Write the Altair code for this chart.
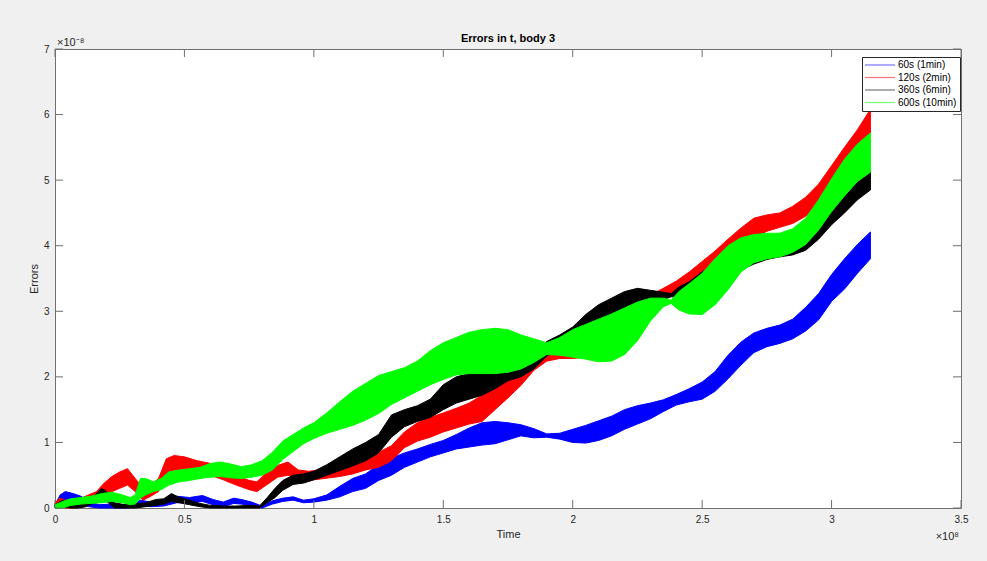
import altair as alt
import pandas as pd

FONT = "Liberation Sans"
TITLE = "Errors in t, body 3"
SERIES = ["60s (1min)", "120s (2min)", "360s (6min)", "600s (10min)"]
COLORS = ["#0000ff", "#ff0000", "#000000", "#00ff00"]
X_TICKS = [0, 0.5, 1, 1.5, 2, 2.5, 3, 3.5]      # x 1e8
Y_TICKS = [0, 1, 2, 3, 4, 5, 6, 7]              # x 1e-8

# ---- 60s (1min) : time (x1e8), lower / upper envelope (x1e-8)
T_60 = [0, 0.02, 0.04, 0.07, 0.1, 0.13, 0.17, 0.22, 0.28, 0.33, 0.37, 0.42, 0.47, 0.52, 0.57,
        0.61, 0.65, 0.69, 0.72, 0.76, 0.80, 0.84, 0.88, 0.92, 0.96, 1.00, 1.05, 1.10, 1.15,
        1.20, 1.25, 1.30, 1.35, 1.40, 1.45, 1.50, 1.55, 1.60, 1.65, 1.70, 1.75, 1.80, 1.85,
        1.90, 1.95, 2.00, 2.05, 2.10, 2.15, 2.20, 2.25, 2.30, 2.35, 2.40, 2.45, 2.50, 2.55,
        2.60, 2.65, 2.70, 2.75, 2.80, 2.85, 2.90, 2.95, 3.00, 3.05, 3.10, 3.15]
LO_60 = [0.0, 0.05, 0.12, 0.1, 0.08, 0.02, 0.0, 0.0, 0.0, 0.04, 0.02, 0.03, 0.08, 0.08, 0.1,
         0.05, 0.02, 0.07, 0.06, 0.03, 0.0, 0.06, 0.1, 0.12, 0.08, 0.09, 0.12, 0.17, 0.25,
         0.3, 0.42, 0.5, 0.62, 0.7, 0.78, 0.84, 0.9, 0.93, 0.96, 0.98, 1.04, 1.1, 1.07,
         1.08, 1.05, 1.0, 0.99, 1.03, 1.1, 1.2, 1.28, 1.36, 1.47, 1.57, 1.62, 1.66, 1.78,
         1.97, 2.18, 2.37, 2.46, 2.51, 2.58, 2.7, 2.87, 3.15, 3.34, 3.58, 3.8]
HI_60 = [0.05, 0.2, 0.25, 0.22, 0.18, 0.1, 0.05, 0.06, 0.05, 0.12, 0.09, 0.1, 0.18, 0.16, 0.19,
         0.13, 0.09, 0.15, 0.13, 0.09, 0.03, 0.11, 0.15, 0.17, 0.12, 0.14, 0.2, 0.33, 0.45,
         0.52, 0.66, 0.76, 0.84, 0.9, 0.97, 1.03, 1.12, 1.22, 1.3, 1.32, 1.3, 1.27, 1.21,
         1.13, 1.14, 1.2, 1.26, 1.33, 1.4, 1.5, 1.56, 1.6, 1.65, 1.73, 1.82, 1.92, 2.08,
         2.33, 2.53, 2.67, 2.74, 2.79, 2.88, 3.06, 3.27, 3.56, 3.8, 4.02, 4.21]

# ---- 120s (2min)
T_120 = [0, 0.02, 0.04, 0.07, 0.1, 0.13, 0.16, 0.19, 0.22, 0.25, 0.28, 0.31, 0.34, 0.37, 0.40,
         0.43, 0.46, 0.50, 0.55, 0.60, 0.65, 0.70, 0.75, 0.78, 0.82, 0.86, 0.90, 0.94, 0.98,
         1.02, 1.06, 1.10, 1.15, 1.20, 1.25, 1.30, 1.35, 1.40, 1.45, 1.50, 1.55, 1.60, 1.65,
         1.70, 1.75, 1.80, 1.85, 1.90, 1.95, 2.00, 2.05, 2.10, 2.15, 2.20, 2.25, 2.30, 2.35,
         2.40, 2.45, 2.50, 2.55, 2.60, 2.65, 2.70, 2.75, 2.80, 2.85, 2.90, 2.95, 3.00, 3.05,
         3.10, 3.15]
LO_120 = [0.0, 0.05, 0.0, 0.0, 0.02, 0.08, 0.12, 0.2, 0.25, 0.3, 0.35, 0.25, 0.12, 0.18, 0.25,
          0.5, 0.58, 0.58, 0.52, 0.5, 0.43, 0.35, 0.28, 0.25, 0.36, 0.47, 0.5, 0.45, 0.42,
          0.44, 0.46, 0.48, 0.52, 0.58, 0.62, 0.72, 0.92, 1.02, 1.08, 1.16, 1.22, 1.28, 1.32,
          1.5, 1.68, 1.87, 2.1, 2.24, 2.28, 2.28, 2.3, 2.4, 2.55, 2.75, 2.95, 3.1, 3.22,
          3.3, 3.4, 3.52, 3.66, 3.8, 3.97, 4.12, 4.22, 4.28, 4.34, 4.45, 4.66, 4.9, 5.18,
          5.45, 5.72]
HI_120 = [0.08, 0.15, 0.12, 0.1, 0.15, 0.2, 0.25, 0.38, 0.48, 0.55, 0.6, 0.45, 0.3, 0.35, 0.45,
          0.75, 0.8, 0.78, 0.72, 0.68, 0.58, 0.5, 0.42, 0.4, 0.55, 0.65, 0.7, 0.58, 0.56,
          0.58, 0.6, 0.63, 0.68, 0.76, 0.85, 0.95, 1.16, 1.3, 1.38, 1.45, 1.52, 1.6, 1.72,
          1.88, 2.02, 2.16, 2.3, 2.37, 2.38, 2.36, 2.42, 2.6, 2.8, 3.0, 3.15, 3.25, 3.35,
          3.46, 3.6, 3.76, 3.92, 4.1, 4.27, 4.42, 4.47, 4.5, 4.6, 4.74, 4.94, 5.22, 5.5,
          5.77, 6.08]

# ---- 360s (6min)
T_360 = [0, 0.03, 0.06, 0.09, 0.12, 0.15, 0.18, 0.20, 0.23, 0.27, 0.31, 0.35, 0.39, 0.42, 0.45,
         0.48, 0.52, 0.56, 0.60, 0.65, 0.70, 0.75, 0.79, 0.82, 0.85, 0.88, 0.92, 0.96, 1.00,
         1.05, 1.10, 1.15, 1.20, 1.25, 1.30, 1.35, 1.40, 1.45, 1.50, 1.55, 1.60, 1.65, 1.70,
         1.75, 1.80, 1.85, 1.90, 1.95, 2.00, 2.05, 2.10, 2.15, 2.20, 2.25, 2.30, 2.35, 2.38,
         2.41, 2.45, 2.50, 2.55, 2.60, 2.65, 2.70, 2.75, 2.80, 2.85, 2.90, 2.95, 3.00, 3.05,
         3.10, 3.15]
LO_360 = [0.0, 0.02, 0.0, 0.0, 0.02, 0.08, 0.15, 0.1, 0.0, 0.0, 0.0, 0.02, 0.04, 0.06, 0.1,
          0.08, 0.05, 0.02, 0.0, 0.0, 0.0, 0.0, 0.0, 0.08, 0.16, 0.27, 0.36, 0.38, 0.43,
          0.5, 0.57, 0.64, 0.72, 0.84, 1.08, 1.24, 1.32, 1.38, 1.5, 1.6, 1.66, 1.72, 1.82,
          1.94, 2.0, 2.12, 2.32, 2.42, 2.52, 2.64, 2.8, 2.9, 3.0, 3.08, 3.14, 3.18, 3.22,
          3.22, 3.27, 3.33, 3.38, 3.5, 3.63, 3.72, 3.79, 3.83, 3.86, 3.93, 4.1, 4.32, 4.5,
          4.7, 4.85]
HI_360 = [0.05, 0.12, 0.1, 0.06, 0.1, 0.18, 0.3, 0.25, 0.08, 0.05, 0.06, 0.08, 0.13, 0.14, 0.22,
          0.16, 0.12, 0.07, 0.04, 0.03, 0.03, 0.04, 0.03, 0.16, 0.3, 0.42, 0.5, 0.52, 0.56,
          0.66, 0.78, 0.9, 1.0, 1.12, 1.42, 1.5, 1.56, 1.66, 1.88, 2.0, 2.05, 2.1, 2.15,
          2.2, 2.27, 2.38, 2.54, 2.64, 2.76, 2.95, 3.1, 3.2, 3.3, 3.35, 3.32, 3.29, 3.27,
          3.37, 3.45, 3.6, 3.72, 3.85, 3.98, 4.05, 4.1, 4.14, 4.18, 4.28, 4.5, 4.72, 4.9,
          5.05, 5.15]

# ---- 600s (10min)
T_600 = [0, 0.03, 0.06, 0.1, 0.14, 0.18, 0.22, 0.26, 0.29, 0.31, 0.33, 0.35, 0.38, 0.41, 0.44,
         0.48, 0.52, 0.56, 0.60, 0.64, 0.68, 0.72, 0.76, 0.80, 0.84, 0.88, 0.92, 0.96, 1.00,
         1.05, 1.10, 1.15, 1.20, 1.25, 1.30, 1.35, 1.40, 1.45, 1.50, 1.55, 1.60, 1.65, 1.70,
         1.75, 1.80, 1.85, 1.90, 1.95, 2.00, 2.05, 2.10, 2.15, 2.20, 2.25, 2.30, 2.35, 2.38,
         2.41, 2.45, 2.50, 2.55, 2.60, 2.65, 2.70, 2.75, 2.80, 2.85, 2.90, 2.95, 3.00, 3.05,
         3.10, 3.15]
LO_600 = [0.0, 0.0, 0.04, 0.06, 0.07, 0.08, 0.1, 0.08, 0.05, 0.06, 0.15, 0.2, 0.25, 0.28, 0.35,
          0.4, 0.42, 0.45, 0.47, 0.48, 0.46, 0.45, 0.47, 0.5, 0.58, 0.74, 0.86, 0.98, 1.06,
          1.14, 1.2, 1.26, 1.34, 1.44, 1.58, 1.68, 1.78, 1.88, 1.96, 2.03, 2.05, 2.05, 2.05,
          2.07, 2.12, 2.22, 2.34, 2.33, 2.3, 2.27, 2.23, 2.24, 2.34, 2.55, 2.85, 3.07, 3.12,
          3.02, 2.96, 2.95, 3.1, 3.33, 3.6, 3.74, 3.8, 3.83, 3.9, 4.02, 4.24, 4.52, 4.76,
          4.98, 5.12]
HI_600 = [0.05, 0.1, 0.14, 0.16, 0.18, 0.22, 0.24, 0.2, 0.16, 0.2, 0.45, 0.45, 0.4, 0.45, 0.55,
          0.58, 0.6, 0.62, 0.68, 0.7, 0.67, 0.63, 0.66, 0.72, 0.85, 1.02, 1.12, 1.22, 1.3,
          1.45, 1.62, 1.78, 1.9, 2.02, 2.08, 2.14, 2.24, 2.4, 2.52, 2.6, 2.68, 2.72, 2.74,
          2.72, 2.64, 2.58, 2.52, 2.6, 2.72, 2.8, 2.88, 2.96, 3.05, 3.14, 3.2, 3.2, 3.17,
          3.3, 3.42, 3.58, 3.8, 4.0, 4.12, 4.17, 4.19, 4.19, 4.26, 4.42, 4.7, 5.02, 5.32,
          5.55, 5.72]

W, H = 906, 459
TICK = 8
AXC = "#262626"
SPINE = "#707070"

xscale = alt.Scale(domain=[0, 3.5], nice=False, zero=False)
yscale = alt.Scale(domain=[0, 7], nice=False, zero=False)
cscale = alt.Scale(domain=SERIES, range=COLORS)

xaxis = alt.Axis(values=X_TICKS, format="~g", ticks=False, domain=False, grid=False,
                 labelFlush=False, labelFont=FONT, labelFontSize=10, labelColor=AXC,
                 labelPadding=6, title="Time", titleFont=FONT, titleFontSize=11,
                 titleFontWeight="normal", titleColor=AXC, titlePadding=4)
yaxis = alt.Axis(values=Y_TICKS, format="~g", ticks=False, domain=False, grid=False,
                 labelFlush=False, labelFont=FONT, labelFontSize=10, labelColor=AXC,
                 labelPadding=6, title="Errors", titleFont=FONT, titleFontSize=11,
                 titleFontWeight="normal", titleColor=AXC, titlePadding=4)
# thin horizontal bar as legend line symbol (size 100 -> 1 path unit = 5 px)
legend = alt.Legend(title=None, orient="none", legendX=807, legendY=8,
                    symbolType="M-1,-0.12H5V0.12H-1Z", symbolSize=100,
                    symbolStrokeWidth=0, symbolOpacity=0.55,
                    labelFont=FONT, labelFontSize=10, labelColor="#000000",
                    fillColor="white", strokeColor=AXC, padding=3, rowPadding=2.5,
                    labelOffset=23)


def band(name, t, lo, hi):
    df = pd.DataFrame({"t": t, "lo": lo, "hi": hi, "series": name})
    return alt.Chart(df).mark_area(strokeWidth=1, opacity=1, interpolate="linear").encode(
        x=alt.X("t:Q", scale=xscale, axis=xaxis),
        y=alt.Y("lo:Q", scale=yscale, axis=yaxis),
        y2="hi:Q",
        color=alt.Color("series:N", scale=cscale, legend=legend),
        stroke=alt.Stroke("series:N", scale=cscale, legend=None),
    )


layers = [
    band(SERIES[0], T_60, LO_60, HI_60),
    band(SERIES[1], T_120, LO_120, HI_120),
    band(SERIES[2], T_360, LO_360, HI_360),
    band(SERIES[3], T_600, LO_600, HI_600),
]

xt = pd.DataFrame({"t": X_TICKS})
yt = pd.DataFrame({"lo": Y_TICKS})
for y0, y1 in [(H, H - TICK), (0, TICK)]:
    layers.append(alt.Chart(xt).mark_rule(color=SPINE, strokeWidth=1).encode(
        x=alt.X("t:Q", scale=xscale, axis=xaxis), y=alt.value(y0), y2=alt.value(y1)))
for x0, x1 in [(0, TICK), (W, W - TICK)]:
    layers.append(alt.Chart(yt).mark_rule(color=SPINE, strokeWidth=1).encode(
        y=alt.Y("lo:Q", scale=yscale, axis=yaxis), x=alt.value(x0), x2=alt.value(x1)))

ann = pd.DataFrame({"label": ["×10⁻⁸"]})
layers.append(alt.Chart(ann).mark_text(font=FONT, fontSize=11, color=AXC, align="left",
                                       baseline="middle").encode(
    x=alt.value(2), y=alt.value(-6), text="label:N"))
ann2 = pd.DataFrame({"label": ["×10⁸"]})
layers.append(alt.Chart(ann2).mark_text(font=FONT, fontSize=11, color=AXC, align="right",
                                        baseline="middle").encode(
    x=alt.value(904), y=alt.value(488), text="label:N"))

chart = alt.layer(*layers).properties(
    width=W, height=H,
    title=alt.Title(TITLE, font=FONT, fontSize=11, fontWeight="bold", color="#000000",
                    offset=-7, frame="group"),
    autosize=alt.AutoSizeParams(type="none"),
    padding={"left": 55, "top": 49, "right": 26, "bottom": 53},
    background="#f0f0f0",
).configure_view(fill="white", stroke=SPINE, strokeWidth=1)

chart.save("out.html", embed_options={"renderer": "svg", "actions": False})
